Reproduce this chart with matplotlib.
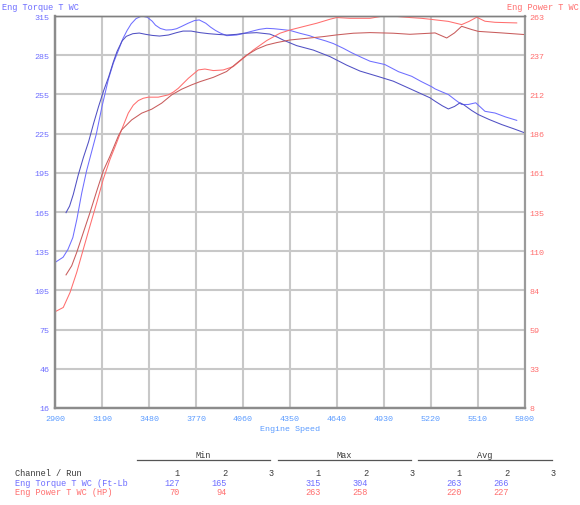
import numpy as np
import matplotlib
matplotlib.use("Agg")
import matplotlib.pyplot as plt
from matplotlib.lines import Line2D

plt.rcParams['font.family'] = ['Liberation Mono', 'DejaVu Sans Mono']

# run 1 / run 2 torque (ft-lb) and power (hp)
t1_rpm = [2900, 2950, 2980, 3010, 3035, 3065, 3095, 3125, 3155, 3190, 3230, 3260, 3295, 3320,
          3345, 3370, 3400, 3435, 3470, 3500, 3520, 3550, 3585, 3620, 3650, 3680, 3720, 3760,
          3790, 3830, 3860, 3890, 3920, 3960, 4020, 4060, 4103, 4160, 4206, 4250, 4290, 4350,
          4412, 4470, 4515, 4570, 4617, 4680, 4730, 4790, 4844, 4935, 5020, 5101, 5160, 5225,
          5245, 5290, 5327, 5370, 5409, 5450, 5496, 5525, 5553, 5615, 5680, 5749]
t1_val = [127, 131, 137, 146, 160, 180, 197, 211, 225, 246, 267, 279, 290, 298,
          304, 309, 313, 315, 314, 311, 308, 305.5, 304.3, 304.5, 305.3, 307, 309.4, 311.5,
          312, 309.5, 306.5, 304, 302, 300, 300.5, 301.5, 303, 304.8, 305.6, 305.3, 304.8, 304,
          301.8, 300, 298, 296, 294, 290.3, 287, 283.5, 280.5, 278, 272.5, 269, 265, 261,
          259.4, 257, 255.1, 251, 247.5, 247.5, 248.8, 245.5, 242.3, 241, 238, 235.4]

t2_rpm = [2968, 2990, 3013, 3044, 3075, 3107, 3138, 3169, 3200, 3231, 3260, 3283, 3314, 3340,
          3380, 3420, 3460, 3500, 3545, 3600, 3650, 3690, 3740, 3795, 3850, 3900, 3960, 4020,
          4062, 4144, 4226, 4270, 4309, 4391, 4494, 4597, 4700, 4782, 4890, 4987, 5100, 5214,
          5245, 5290, 5327, 5365, 5399, 5420, 5470, 5512, 5580, 5656, 5730, 5800]
t2_val = [165, 170, 179, 194, 207, 219, 233, 246, 258, 268.5, 280, 288, 296, 299.5,
          301.5, 302, 301, 300.2, 299.7, 300.5, 302.3, 303.5, 303.5, 302.3, 301.5, 301, 300.5, 301,
          301.8, 302.3, 301.2, 299, 296.6, 292.4, 289, 284, 277.5, 273, 269, 265.3, 259, 252.6,
          250, 246.5, 244.1, 246, 248.8, 247.5, 243, 239.8, 236, 232.2, 229, 225.8]

p1_rpm = [2900, 2951, 2993, 3034, 3075, 3116, 3158, 3198, 3240, 3281, 3311, 3352, 3383, 3414,
          3445, 3476, 3537, 3599, 3630, 3661, 3723, 3784, 3825, 3877, 3938, 4000, 4062, 4124,
          4206, 4288, 4350, 4432, 4515, 4597, 4638, 4720, 4844, 4925, 5000, 5090, 5160, 5214,
          5245, 5327, 5409, 5455, 5502, 5553, 5615, 5680, 5749]
p1_val = [70.6, 73.4, 83.2, 96.2, 111.4, 126.5, 141.7, 156.9, 169.9, 180.7, 189, 199.8, 205, 208,
          209.5, 210.2, 210.2, 211.7, 213.5, 216, 222.5, 227.9, 228.5, 227.5, 227.9, 230.1, 235.5, 240.9,
          247, 251.8, 253.9, 256.1, 258.3, 260.9, 262, 261.5, 261.5, 263, 262.8, 262, 261.5, 260.9,
          260.5, 259.5, 257.4, 259.5, 262.2, 259.6, 258.9, 258.7, 258.5]

p2_rpm = [2968, 3003, 3034, 3075, 3116, 3158, 3198, 3240, 3291, 3311, 3373, 3435, 3497, 3558,
          3620, 3682, 3743, 3795, 3877, 3959, 4021, 4083, 4144, 4206, 4268, 4350, 4453, 4556,
          4638, 4741, 4844, 4987, 5090, 5214, 5245, 5317, 5365, 5409, 5471, 5512, 5656, 5800]
p2_val = [94.6, 100.5, 109.2, 122.2, 135.2, 149.3, 162.3, 172, 185, 188.9, 195.4, 199.8, 202.4, 206.3,
          211.7, 215.4, 218.2, 220.3, 223.1, 226.9, 232.3, 237.6, 241.4, 244.1, 245.7, 247.4, 248.5, 249.6,
          250.7, 251.8, 252.2, 251.8, 251.1, 251.8, 252, 248.7, 252, 256.3, 254.2, 253, 252, 250.9]

rpm_ticks = [2900, 3190, 3480, 3770, 4060, 4350, 4640, 4930, 5220, 5510, 5800]
torque_labels = [16, 46, 75, 105, 135, 165, 195, 225, 255, 285, 315]
power_labels = [8, 33, 59, 84, 110, 135, 161, 186, 212, 237, 263]

# summary table
runs = ["1", "2", "3"]
torque_min = ["127", "165"]
torque_max = ["315", "304"]
torque_avg = ["263", "266"]
power_min = ["70", "94"]
power_max = ["263", "258"]
power_avg = ["220", "227"]

C_TQ = '#6e6eff'
C_TQ2 = '#5050c4'
C_HP = '#ff6e6e'
C_HP2 = '#c85c5c'
C_X = '#5c9cff'
W, H = 580, 506


def fx(x):
    return x / W


def fy(y):
    return 1 - y / H


fig = plt.figure(figsize=(5.8, 5.06), dpi=100)
ax = fig.add_axes([fx(55), fy(409), 470 / W, 392 / H])
ax2 = ax.twinx()

ax.set_xlim(2900, 5800)
ax.set_ylim(16, 315)
ax2.set_ylim(8, 263)

ax.set_xticks(rpm_ticks)
ax.set_xticklabels([str(r) for r in rpm_ticks], color=C_X, fontsize=6)
ax.set_yticks(np.linspace(16, 315, len(torque_labels)))
ax.set_yticklabels([str(v) for v in torque_labels], color=C_TQ, fontsize=6)
ax2.set_yticks(np.linspace(8, 263, len(power_labels)))
ax2.set_yticklabels([str(v) for v in power_labels], color=C_HP, fontsize=6)

ax.tick_params(axis='both', length=0)
ax.tick_params(axis='x', pad=5)
ax.tick_params(axis='y', pad=4)
ax2.tick_params(axis='y', length=0, pad=3)

ax.grid(True, color='#c8c8c8', lw=1.5)
ax.set_axisbelow(True)

for a in (ax, ax2):
    a.spines['left'].set_color('#8c8c8c')
    a.spines['left'].set_linewidth(1.6)
    a.spines['bottom'].set_color('#8c8c8c')
    a.spines['bottom'].set_linewidth(1.6)
    a.spines['top'].set_color('#808080')
    a.spines['top'].set_linewidth(1.0)
    a.spines['right'].set_color('#9a9a9a')
    a.spines['right'].set_linewidth(1.5)

ax.plot(t1_rpm, t1_val, color=C_TQ, lw=0.75)
ax.plot(t2_rpm, t2_val, color=C_TQ2, lw=0.75)
ax2.plot(p1_rpm, p1_val, color=C_HP, lw=0.75)
ax2.plot(p2_rpm, p2_val, color=C_HP2, lw=0.75)

ax.set_xlabel("Engine Speed", color=C_X, fontsize=6, labelpad=2)

fig.text(fx(2), fy(8), "Eng Torque T WC", color=C_TQ, fontsize=6.2, va='center', ha='left')
fig.text(fx(579), fy(8), "Eng Power T WC", color=C_HP, fontsize=6.2, va='center', ha='right')

# table headers with rules underneath
TXT = '#3a3a3a'
for name, x0, x1 in [("Min", 137, 270), ("Max", 278, 411), ("Avg", 418, 552)]:
    fig.text(fx((x0 + x1) / 2), fy(456), name, color=TXT, fontsize=6.2, ha='center', va='center')
    fig.add_artist(Line2D([fx(x0), fx(x1)], [fy(460.5), fy(460.5)], color='#555555', lw=0.9))

fig.text(fx(15), fy(474), "Channel / Run", color=TXT, fontsize=6.2, ha='left', va='center')
fig.text(fx(15), fy(484), "Eng Torque T WC (Ft-Lb", color=C_TQ, fontsize=6.2, ha='left', va='center')
fig.text(fx(15), fy(493), "Eng Power T WC (HP)", color=C_HP, fontsize=6.2, ha='left', va='center')

col_right = [[180, 227, 274], [321, 368, 415], [462, 509, 556]]
groups = [(torque_min, power_min), (torque_max, power_max), (torque_avg, power_avg)]
for cols, (tq, hp) in zip(col_right, groups):
    for i, r in enumerate(runs):
        fig.text(fx(cols[i]), fy(474), r, color=TXT, fontsize=6.2, ha='right', va='center')
    for i in range(len(tq)):
        fig.text(fx(cols[i]), fy(484), tq[i], color=C_TQ, fontsize=6.2, ha='right', va='center')
        fig.text(fx(cols[i]), fy(493), hp[i], color=C_HP, fontsize=6.2, ha='right', va='center')

fig.savefig("out.png", dpi=100)
